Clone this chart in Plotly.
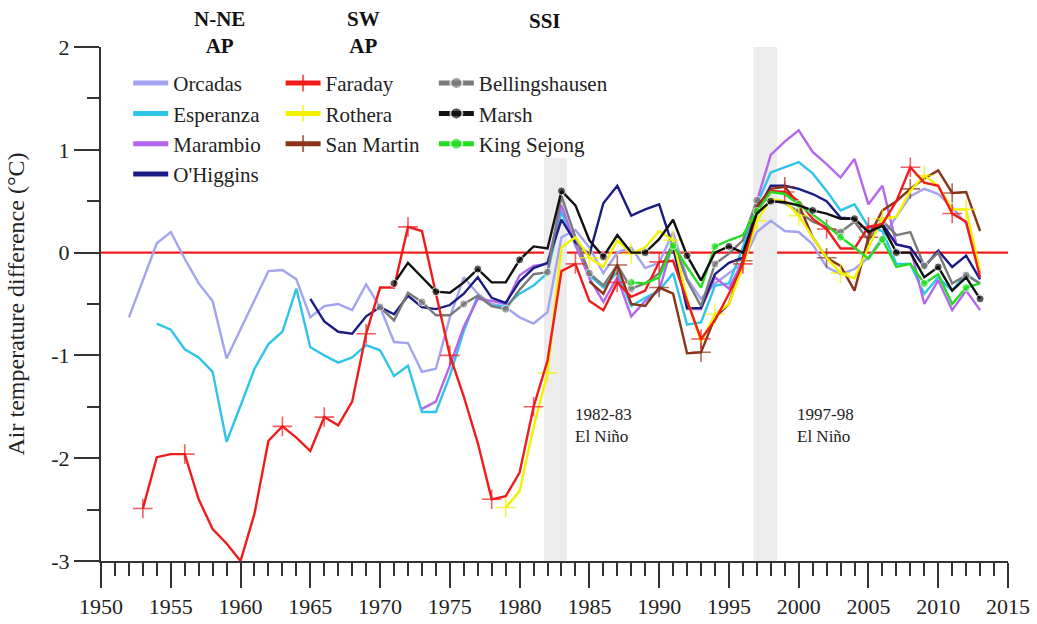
import plotly.graph_objects as go

# ---------------- data ----------------
orcadas_years = list(range(1952, 2014))
orcadas = [-0.63, -0.27, 0.09, 0.20, -0.06, -0.30, -0.47, -1.03, -0.75, -0.46,
           -0.18, -0.17, -0.26, -0.63, -0.52, -0.50, -0.56, -0.31, -0.53, -0.87,
           -0.88, -1.16, -1.13, -0.63, -0.24, -0.40, -0.50, -0.53, -0.63, -0.69,
           -0.58, 0.15, 0.22, 0.05, -0.20, 0.00, 0.05, -0.15, -0.10, 0.20,
           -0.25, -0.45, -0.30, -0.20, -0.10, 0.20, 0.31, 0.21, 0.20, 0.08,
           -0.14, -0.21, -0.16, -0.05, 0.15, 0.35, 0.55, 0.62, 0.57, 0.44,
           0.28, -0.20]

esperanza_years = list(range(1954, 2014))
esperanza = [-0.69, -0.75, -0.94, -1.02, -1.16, -1.84, -1.49, -1.13, -0.89, -0.77,
             -0.35, -0.92, -1.00, -1.07, -1.02, -0.90, -0.95, -1.20, -1.10, -1.55,
             -1.55, -1.20, -0.76, -0.42, -0.52, -0.52, -0.40, -0.32, -0.20, 0.40,
             0.07, -0.22, -0.34, -0.19, -0.52, -0.44, -0.37, -0.20, -0.70, -0.68,
             -0.32, -0.30, 0.05, 0.47, 0.78, 0.83, 0.88, 0.77, 0.60, 0.41,
             0.47, 0.25, 0.21, -0.11, -0.11, -0.40, -0.24, -0.37, -0.21, -0.30]

marambio_years = list(range(1973, 2014))
marambio = [-1.52, -1.45, -1.10, -0.72, -0.45, -0.47, -0.50, -0.22, -0.13, -0.11,
            0.46, 0.08, -0.25, -0.48, -0.24, -0.62, -0.47, -0.37, 0.10, -0.55,
            -0.55, -0.24, -0.35, -0.08, 0.50, 0.95, 1.08, 1.19, 0.98, 0.86,
            0.73, 0.91, 0.47, 0.65, 0.08, 0.05, -0.50, -0.27, -0.56, -0.37,
            -0.56]

ohiggins_years = list(range(1965, 2014))
ohiggins = [-0.45, -0.67, -0.77, -0.79, -0.62, -0.53, -0.60, -0.42, -0.53, -0.55,
            -0.51, -0.40, -0.24, -0.44, -0.49, -0.28, -0.15, -0.10, 0.32, 0.10,
            -0.02, 0.48, 0.65, 0.36, 0.42, 0.47, 0.05, -0.54, -0.54, -0.21,
            -0.10, -0.05, 0.40, 0.65, 0.65, 0.62, 0.57, 0.50, 0.34, 0.33,
            0.20, 0.28, 0.08, 0.05, -0.14, 0.02, -0.14, -0.03, -0.26]

faraday_years = list(range(1953, 2014))
faraday = [-2.49, -1.99, -1.96, -1.96, -2.40, -2.69, -2.83, -3.00, -2.54, -1.83,
           -1.69, -1.80, -1.93, -1.60, -1.68, -1.45, -0.79, -0.34, -0.34, 0.25,
           0.21, -0.40, -1.00, -1.40, -1.85, -2.40, -2.37, -2.14, -1.50, -1.05,
           -0.18, -0.11, -0.47, -0.56, -0.29, -0.43, -0.37, -0.09, -0.08, -0.47,
           -0.84, -0.66, -0.40, -0.11, 0.40, 0.60, 0.59, 0.50, 0.33, 0.23,
           0.04, 0.04, 0.25, 0.28, 0.50, 0.83, 0.68, 0.65, 0.38, 0.30,
           -0.24]
faraday_marked = [1953, 1956] + list(range(1963, 2014, 3))

rothera_years = list(range(1979, 2014))
rothera = [-2.48, -2.32, -1.70, -1.17, 0.05, 0.15, -0.05, -0.14, 0.12, -0.01,
           0.05, 0.21, 0.12, -0.45, -0.87, -0.60, -0.50, -0.14, 0.31, 0.52,
           0.50, 0.36, 0.15, -0.05, -0.20, -0.25, 0.05, 0.33, 0.35, 0.60,
           0.75, 0.65, 0.42, 0.42, -0.18]
rothera_marked = list(range(1979, 2014, 3))

sanmartin_years = list(range(1985, 2014))
sanmartin = [-0.28, -0.40, -0.12, -0.50, -0.52, -0.34, -0.40, -0.98, -0.97, -0.63,
             -0.50, -0.08, 0.45, 0.62, 0.64, 0.47, 0.15, -0.05, -0.13, -0.37,
             0.15, 0.41, 0.50, 0.62, 0.72, 0.80, 0.58, 0.59, 0.21]
sanmartin_marked = list(range(1987, 2014, 3))

bellings_years = list(range(1970, 2014))
bellings = [-0.53, -0.66, -0.39, -0.48, -0.61, -0.61, -0.50, -0.42, -0.52, -0.55,
            -0.36, -0.21, -0.19, 0.55, 0.15, -0.20, -0.32, -0.12, -0.35, -0.30,
            -0.20, 0.10, -0.27, -0.52, -0.11, -0.01, 0.12, 0.51, 0.51, 0.48,
            0.40, 0.30, 0.25, 0.20, 0.30, 0.12, 0.31, 0.17, 0.20, -0.13,
            0.00, -0.30, -0.22, -0.30]
bellings_marked = list(range(1970, 2014, 3))

marsh_years = list(range(1971, 2014))
marsh = [-0.30, -0.10, -0.24, -0.38, -0.39, -0.29, -0.16, -0.29, -0.29, -0.07,
         0.06, 0.04, 0.60, 0.46, 0.12, -0.04, 0.17, 0.00, 0.00, 0.13,
         0.32, -0.03, -0.27, 0.00, 0.06, 0.00, 0.38, 0.50, 0.49, 0.46,
         0.41, 0.38, 0.33, 0.33, 0.20, 0.26, 0.00, 0.00, -0.24, -0.14,
         -0.37, -0.24, -0.45]
marsh_marked = list(range(1971, 2014, 3))

kingsejong_years = list(range(1988, 2014))
kingsejong = [-0.29, -0.30, -0.24, 0.07, -0.14, -0.34, 0.06, 0.12, 0.17, 0.40,
              0.59, 0.57, 0.47, 0.37, 0.27, 0.15, 0.05, -0.06, 0.13, -0.14,
              -0.11, -0.30, -0.21, -0.50, -0.34, -0.30]
kingsejong_marked = list(range(1988, 2014, 3))

y_tickvals = [-3, -2, -1, 0, 1, 2]
y_ticktext = ["-3", "-2", "-1", "0", "1", "2"]

FONT = "Liberation Serif"
AXC = "#333333"
TXT = "#222222"

fig = go.Figure()


def add(name, xs, ys, color, legend, rank, symbol=None, marked=(), msize=0, width=2.4):
    kw = dict(x=xs, y=ys, name=name, legend=legend, legendgroup=name, legendrank=rank,
              line=dict(color=color, width=width))
    if symbol is None:
        kw["mode"] = "lines"
    else:
        kw["mode"] = "lines+markers"
        sizes = [msize if yr in marked else 0 for yr in xs]
        mk = dict(symbol=symbol, size=sizes, color=color)
        if symbol == "cross-thin":
            mk["line"] = dict(color=color, width=1.6)
        kw["marker"] = mk
    fig.add_trace(go.Scatter(**kw))


add("Orcadas", orcadas_years, orcadas, "#a3a3f0", "legend", 1)
add("Esperanza", esperanza_years, esperanza, "#30c4e8", "legend", 2)
add("Marambio", marambio_years, marambio, "#b466ee", "legend", 3)
add("O'Higgins", ohiggins_years, ohiggins, "#1c1c84", "legend", 4)
add("Bellingshausen", bellings_years, bellings, "#7a7a7a", "legend3", 1, "circle", bellings_marked, 8)
add("San Martin", sanmartin_years, sanmartin, "#8a3418", "legend2", 3, "cross-thin", sanmartin_marked, 14)
add("Rothera", rothera_years, rothera, "#f2f200", "legend2", 2, "cross-thin", rothera_marked, 14)
add("Faraday", faraday_years, faraday, "#f01c1c", "legend2", 1, "cross-thin", faraday_marked, 14)
add("King Sejong", kingsejong_years, kingsejong, "#22dd22", "legend3", 3, "circle", kingsejong_marked, 8)
add("Marsh", marsh_years, marsh, "#111111", "legend3", 2, "circle", marsh_marked, 8)

# El Nino bands and zero line
fig.add_shape(type="rect", xref="x", yref="y", x0=1981.75, x1=1983.4, y0=-3, y1=0.92,
              fillcolor="#ececec", line=dict(width=0), layer="below")
fig.add_shape(type="rect", xref="x", yref="y", x0=1996.75, x1=1998.45, y0=-3, y1=2.05,
              fillcolor="#ececec", line=dict(width=0), layer="below")
fig.add_shape(type="line", xref="paper", yref="y", x0=0, x1=1, y0=0, y1=0,
              line=dict(color="#f01c1c", width=2.2), layer="below")

ann_font = dict(family=FONT, size=17, color=TXT)
fig.add_annotation(x=1983.85, y=-1.68, xref="x", yref="y", text="1982-83<br>El Niño",
                   showarrow=False, xanchor="left", yanchor="middle", align="left", font=ann_font)
fig.add_annotation(x=1999.75, y=-1.68, xref="x", yref="y", text="1997-98<br>El Niño",
                   showarrow=False, xanchor="left", yanchor="middle", align="left", font=ann_font)

hdr_font = dict(family=FONT, size=21, color="#111111")
fig.add_annotation(x=1958.5, y=1.028, xref="x", yref="paper", text="<b>N-NE<br>AP</b>",
                   showarrow=False, xanchor="center", yanchor="middle", font=hdr_font)
fig.add_annotation(x=1968.8, y=1.028, xref="x", yref="paper", text="<b>SW<br>AP</b>",
                   showarrow=False, xanchor="center", yanchor="middle", font=hdr_font)
fig.add_annotation(x=1981.8, y=1.05, xref="x", yref="paper", text="<b>SSI</b>",
                   showarrow=False, xanchor="center", yanchor="middle", font=hdr_font)

leg_common = dict(font=dict(family=FONT, size=21, color=TXT),
                  bgcolor="rgba(0,0,0,0)", tracegroupgap=0, itemwidth=35,
                  yanchor="top", xanchor="left", itemsizing="constant")

fig.update_layout(
    width=1037, height=624,
    margin=dict(l=101, r=29, t=47, b=63, autoexpand=False),
    paper_bgcolor="white", plot_bgcolor="white",
    font=dict(family=FONT, color=TXT),
    legend=dict(x=0.03, y=0.969, **leg_common),
    legend2=dict(x=0.198, y=0.969, **leg_common),
    legend3=dict(x=0.367, y=0.969, **leg_common),
    xaxis=dict(range=[1950, 2015], tick0=1950, dtick=5, ticks="outside", ticklen=25,
               tickwidth=2, tickcolor=AXC, showline=True, linecolor=AXC, linewidth=2,
               showgrid=False, zeroline=False, automargin=False,
               tickfont=dict(family=FONT, size=22, color=TXT),
               minor=dict(dtick=1, tick0=1950, ticks="outside", ticklen=13, tickwidth=1.5,
                          tickcolor=AXC, showgrid=False)),
    yaxis=dict(range=[-3, 2], tickvals=y_tickvals, ticktext=y_ticktext,
               ticks="outside", ticklen=25,
               tickwidth=2, tickcolor=AXC, showline=True, linecolor=AXC, linewidth=2,
               showgrid=False, zeroline=False, automargin=False,
               tickfont=dict(family=FONT, size=22, color=TXT),
               title=dict(text="Air temperature difference (°C)",
                          font=dict(family=FONT, size=24, color=TXT), standoff=20),
               minor=dict(dtick=0.5, tick0=-3, ticks="outside", ticklen=12, tickwidth=1.5,
                          tickcolor=AXC, showgrid=False)),
)

fig.write_html("out.html", config={"displayModeBar": False},
               post_script="document.body.style.margin='0px';")
